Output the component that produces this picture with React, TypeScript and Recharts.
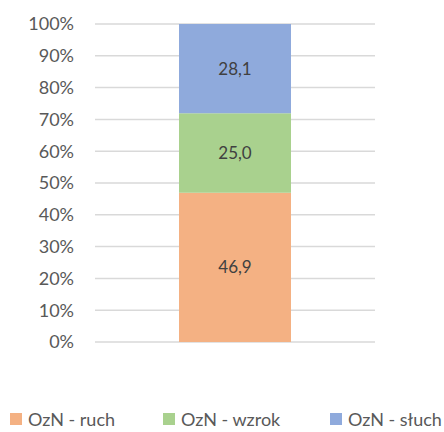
import { BarChart, Bar, XAxis, YAxis, CartesianGrid, Legend, LabelList } from "recharts"

const categories = ["OzN"]
const ruch = [46.9]
const wzrok = [25.0]
const sluch = [28.1]
const yTicks = [0, 10, 20, 30, 40, 50, 60, 70, 80, 90, 100]

const series = [
  { key: "ruch", name: "OzN - ruch", color: "#F4B183" },
  { key: "wzrok", name: "OzN - wzrok", color: "#A9D18E" },
  { key: "sluch", name: "OzN - słuch", color: "#8FAADC" },
]

const data = categories.map((c, i) => ({ name: c, ruch: ruch[i], wzrok: wzrok[i], sluch: sluch[i] }))

const font = "Lato, 'Open Sans', sans-serif"

const fmt = (v: any) => Number(v).toFixed(1).replace(".", ",")

function LegendBox() {
  const lefts = [10, 163, 330]
  return (
    <div style={{ position: "relative", height: 22, width: 444 }}>
      {series.map((s, i) => (
        <div
          key={s.key}
          style={{
            position: "absolute",
            left: lefts[i],
            top: 0,
            height: 22,
            display: "flex",
            alignItems: "center",
            whiteSpace: "nowrap",
          }}
        >
          <span style={{ display: "inline-block", width: 12, height: 12, background: s.color, marginRight: 6 }} />
          <span style={{ fontFamily: font, fontSize: 18, lineHeight: "22px", color: "#595959" }}>{s.name}</span>
        </div>
      ))}
    </div>
  )
}

export default function App() {
  return (
    <div style={{ position: "absolute", left: 0, top: 0, width: 444, height: 432, background: "#fff" }}>
      <BarChart
        width={444}
        height={432}
        data={data}
        margin={{ top: 24, right: 69, bottom: 0, left: 0 }}
        barCategoryGap="30%"
      >
        <CartesianGrid vertical={false} stroke="#D9D9D9" strokeWidth={1.5} />
        <XAxis dataKey="name" hide />
        <YAxis
          width={95}
          domain={[0, 100]}
          ticks={yTicks}
          interval={0}
          axisLine={false}
          tickLine={false}
          tickSize={0}
          tickMargin={21}
          tickFormatter={(v) => `${v}%`}
          tick={{ fill: "#595959", fontSize: 18, fontFamily: font }}
        />
        <Legend
          verticalAlign="bottom"
          height={90}
          content={() => (
            <div style={{ paddingTop: 66 }}>
              <LegendBox />
            </div>
          )}
        />
        {series.map((s) => (
          <Bar key={s.key} dataKey={s.key} name={s.name} stackId="a" fill={s.color} isAnimationActive={false}>
            <LabelList
              dataKey={s.key}
              position="center"
              formatter={fmt}
              fill="#404040"
              fontSize={17}
              fontFamily={font}
            />
          </Bar>
        ))}
      </BarChart>
    </div>
  )
}
